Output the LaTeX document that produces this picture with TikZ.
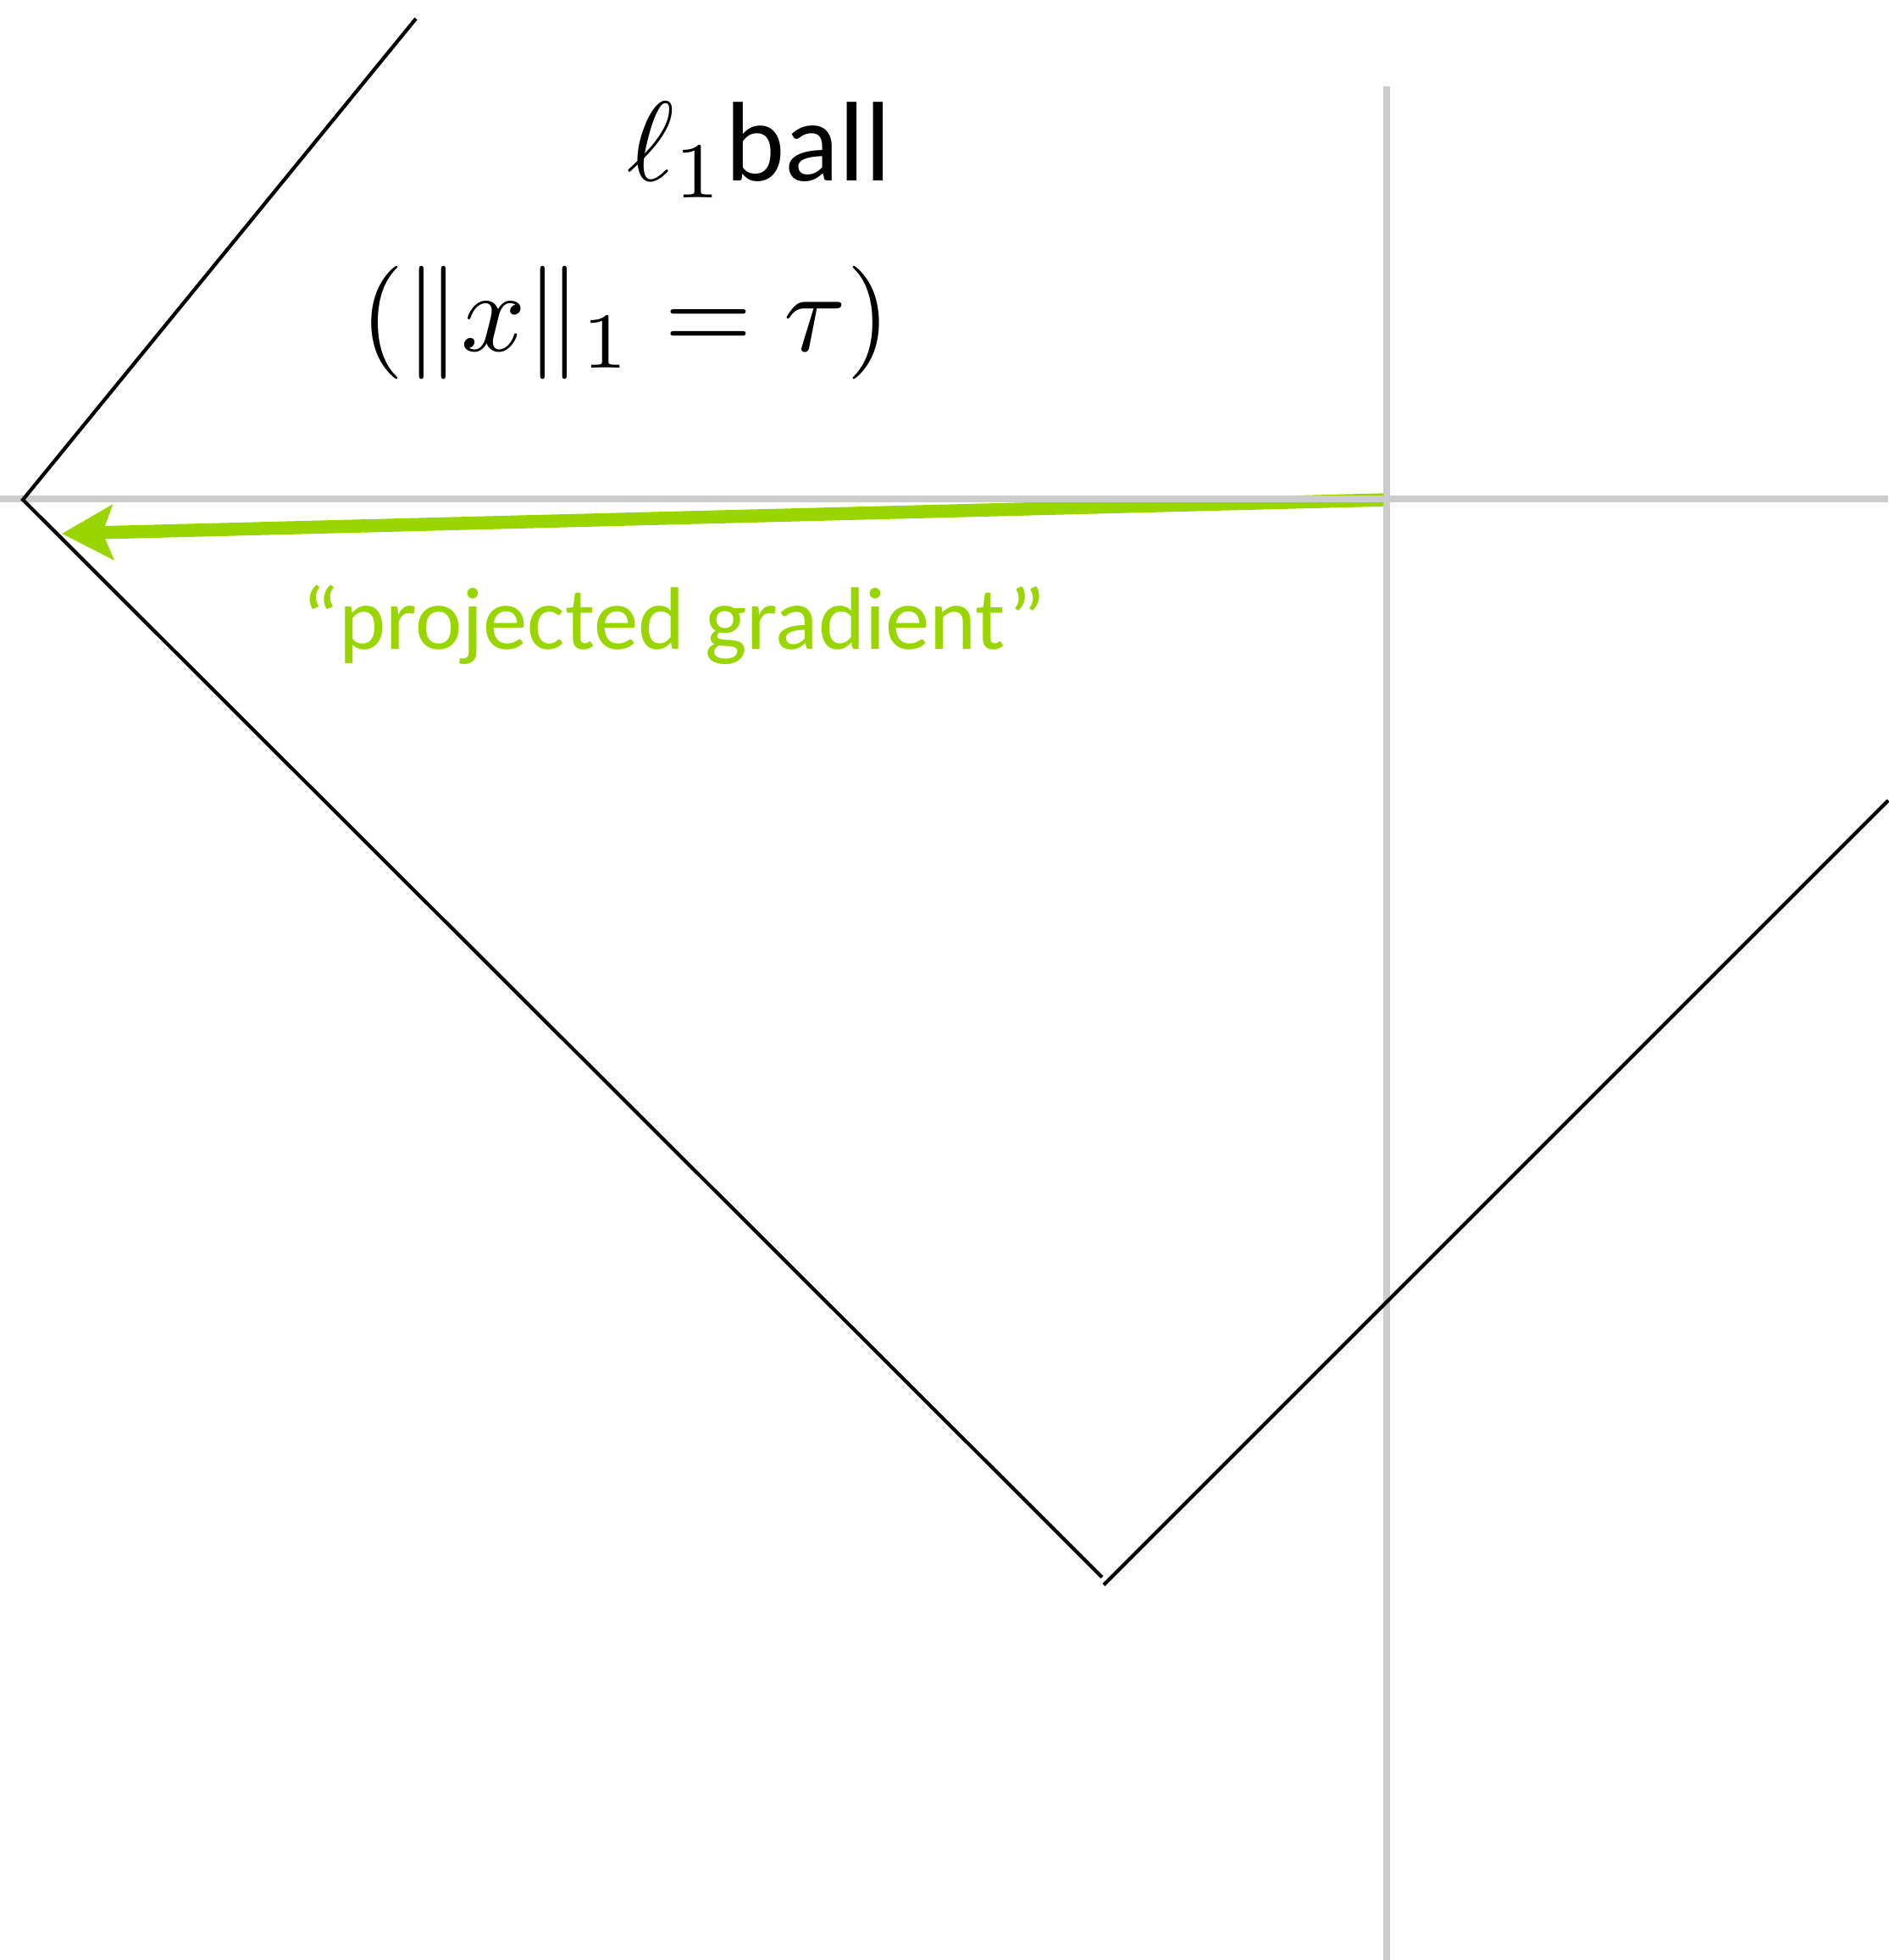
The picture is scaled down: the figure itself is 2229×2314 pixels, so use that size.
\documentclass[tikz,border=0pt]{standalone}
\usepackage{graphicx}
\usepackage{fontspec}
\newfontfamily\cali{Carlito}
\usetikzlibrary{arrows.meta}
\definecolor{axisgray}{RGB}{204,204,204}
\definecolor{pgreen}{RGB}{153,214,0}
\tikzset{
  axisline/.style={draw=axisgray, line width=2.3pt},
  ballline/.style={draw=black, line width=1.2pt},
  gradarrow/.style={draw=pgreen, line width=4.4pt, -{Stealth[length=0.6cm, width=0.64cm, inset=0.12cm]}},
  lbl/.style={inner sep=0pt, anchor=base west}
}
\begin{document}
\begin{tikzpicture}[x=0.01cm, y=-0.01cm]
\useasboundingbox (0,0) rectangle (2229,2314);
% gradient arrow
\coordinate (orig) at (1637,590);
\coordinate (tip) at (73,630);
\draw[gradarrow] (orig) -- (tip);
% axes
\draw[axisline] (0,589) -- (2229,589);
\draw[axisline] (1637,102) -- (1637,2314);
% l1 ball edges
\coordinate (topend) at (491,22);
\coordinate (leftv) at (27,590);
\coordinate (botl) at (1301,1862);
\coordinate (botr) at (1303,1871);
\coordinate (rightend) at (2229,945);
\draw[ballline] (topend) -- (leftv) -- (botl);
\draw[ballline] (botr) -- (rightend);
% labels
\node[lbl, font=\fontsize{38}{46}\selectfont\cali] (title) at (740,213) {\scalebox{3.8}{\normalsize$\ell_1$}ball};
\node[lbl] (formula) at (425,414) {\scalebox{3.8}{\normalsize$(\|x\|_1 = \tau)$}};
\node[lbl, font=\fontsize{29.8}{36}\selectfont\cali, text=pgreen] (pglabel) at (356,766) {“projected gradient”};
\end{tikzpicture}
\end{document}
